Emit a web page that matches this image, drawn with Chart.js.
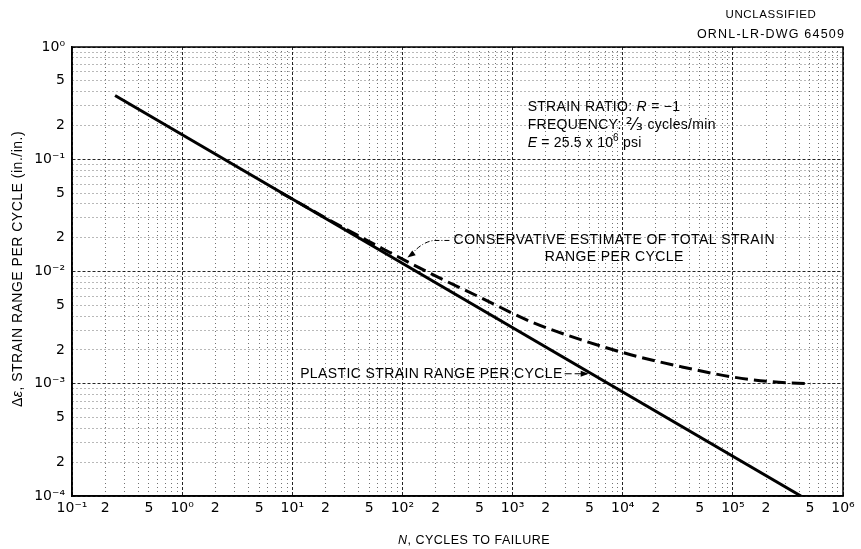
<!DOCTYPE html>
<html><head><meta charset="utf-8">
<script src="https://cdn.jsdelivr.net/npm/chart.js@4.4.1/dist/chart.umd.min.js"></script>
<style>html,body{margin:0;padding:0;background:#fff}#wrap{width:861px;height:549px;position:relative}</style>
</head><body><div id="wrap"><canvas id="c" width="861" height="549"></canvas></div>
<script>
// ---- data ----
const plasticN = [0.246, 4.15e5];
const plasticStrain = [0.37, 1.0e-4];
const totalN = [7.8, 22.1, 63.1, 180, 512, 1460, 4150, 11800, 33700, 95900, 221500, 512000];
const totalStrain = [0.0507, 0.0285, 0.01638, 0.0096, 0.00586, 0.00358, 0.00247, 0.001815, 0.00142, 0.001155, 0.001043, 0.00100];
const xTickValues = [0.1,0.2,0.5,1,2,5,10,20,50,100,200,500,1e3,2e3,5e3,1e4,2e4,5e4,1e5,2e5,5e5,1e6];
const xTickLabels = ['10⁻¹','2','5','10⁰','2','5','10¹','2','5','10²','2','5','10³','2','5','10⁴','2','5','10⁵','2','5','10⁶'];
const yTickValues = [1,0.5,0.2,0.1,0.05,0.02,0.01,0.005,0.002,0.001,5e-4,2e-4,1e-4];
const yTickLabels = ['10⁰','5','2','10⁻¹','5','2','10⁻²','5','2','10⁻³','5','2','10⁻⁴'];

const FONT = '"Liberation Sans", Arial, sans-serif';
const TICKFONT = '"DejaVu Sans", sans-serif';

function logGrid(e0, e1){
  const out=[];
  for(let e=e0;e<e1;e++){ for(let k=1;k<10;k++) out.push(k*Math.pow(10,e)); }
  out.push(Math.pow(10,e1));
  return out;
}
function labelFor(v, vals, labs){
  for(let i=0;i<vals.length;i++){ if(Math.abs(Math.log10(v)-Math.log10(vals[i]))<1e-6) return labs[i]; }
  return '';
}
function isDecade(v){ const l=Math.log10(v); return Math.abs(l-Math.round(l))<1e-6; }

const xy = (xs, ys) => xs.map((x,i)=>({x:x, y:ys[i]}));

function drawRich(ctx, parts, x, y, align, size, spacing){
  ctx.save();
  ctx.letterSpacing = (spacing||0)+'px';
  let w=0; const ws=[];
  parts.forEach(p=>{ ctx.font=(p.i?'italic ':'')+(p.s||size)+'px '+(p.f||FONT); const m=ctx.measureText(p.t).width; ws.push(m); w+=m; });
  let cx = align==='center'? x-w/2 : align==='right'? x-w : x;
  ctx.textAlign='left'; ctx.textBaseline='middle'; ctx.fillStyle='#000';
  parts.forEach((p,i)=>{ ctx.font=(p.i?'italic ':'')+(p.s||size)+'px '+(p.f||FONT); ctx.fillText(p.t, cx, y+(p.dy||0)); cx+=ws[i]; });
  ctx.restore();
  return w;
}
function arrowHead(ctx, fx, fy, tx, ty){
  const ang=Math.atan2(ty-fy, tx-fx), L=8, W=3;
  ctx.save(); ctx.fillStyle='#000'; ctx.beginPath();
  ctx.moveTo(tx,ty);
  ctx.lineTo(tx-L*Math.cos(ang)+W*Math.sin(ang), ty-L*Math.sin(ang)-W*Math.cos(ang));
  ctx.lineTo(tx-L*Math.cos(ang)-W*Math.sin(ang), ty-L*Math.sin(ang)+W*Math.cos(ang));
  ctx.closePath(); ctx.fill(); ctx.restore();
}

const annot = {
  id:'annot',
  afterDraw(chart){
    const ctx=chart.ctx, a=chart.chartArea, sx=chart.scales.x, sy=chart.scales.y;
    const X=v=>sx.getPixelForValue(v), Y=v=>sy.getPixelForValue(v);
    // frame
    ctx.save(); ctx.strokeStyle='#000'; ctx.lineWidth=1.5;
    ctx.strokeRect(a.left, a.top, a.right-a.left, a.bottom-a.top); ctx.restore();
    // header
    drawRich(ctx,[{t:'UNCLASSIFIED'}], 771, 15, 'center', 11.5, 0.6);
    drawRich(ctx,[{t:'ORNL-LR-DWG 64509'}], 771, 35, 'center', 12.5, 1.2);
    // notes block
    const nx = X(1370);
    drawRich(ctx,[{t:'STRAIN RATIO: '},{t:'R',i:true},{t:' = −1'}], nx, Y(0.291), 'left', 14, 0.3);
    drawRich(ctx,[{t:'FREQUENCY: '},{t:'²⁄₃',s:17,f:TICKFONT},{t:' cycles/min'}], nx, Y(0.201), 'left', 14, 0.3);
    drawRich(ctx,[{t:'E',i:true},{t:' = 25.5 x 10'},{t:'6',s:10,dy:-5},{t:' psi'}], nx, Y(0.139), 'left', 14, 0.2);
    // conservative label
    const cx = X(8380);
    drawRich(ctx,[{t:'CONSERVATIVE ESTIMATE OF TOTAL STRAIN'}], cx, Y(0.0189), 'center', 14, 0.4);
    drawRich(ctx,[{t:'RANGE PER CYCLE'}], cx, Y(0.01334), 'center', 14, 0.4);
    // leader to dashed curve
    ctx.save(); ctx.strokeStyle='#000'; ctx.lineWidth=1; ctx.setLineDash([5,2,1,2]);
    const l0x=X(267), l0y=Y(0.0189), l1x=X(191), tipx=X(111), tipy=Y(0.01334);
    ctx.beginPath(); ctx.moveTo(l0x,l0y); ctx.lineTo(l1x,l0y);
    ctx.quadraticCurveTo(l1x-12, l0y+2, tipx+4, tipy-3); ctx.stroke();
    ctx.setLineDash([]);
    arrowHead(ctx, tipx+10, tipy-7, tipx, tipy);
    ctx.restore();
    // plastic label
    drawRich(ctx,[{t:'PLASTIC STRAIN RANGE PER CYCLE'}], X(2848), Y(0.001228), 'right', 14, 0.4);
    ctx.save(); ctx.strokeStyle='#000'; ctx.lineWidth=1.2;
    const py=Y(0.001228), p0=X(2848)+2, p1=X(4910);
    ctx.beginPath(); ctx.moveTo(p0,py); ctx.lineTo(p0+7,py); ctx.moveTo(p0+10,py); ctx.lineTo(p1-2,py); ctx.stroke();
    arrowHead(ctx, p0+10, py, p1, py);
    ctx.restore();
    // axis titles
    drawRich(ctx,[{t:'N',i:true},{t:', CYCLES TO FAILURE'}], 474, 541, 'center', 12.5, 0.5);
    ctx.save(); ctx.translate(18, 269); ctx.rotate(-Math.PI/2);
    drawRich(ctx,[{t:'Δ'},{t:'ε',i:true},{t:', STRAIN RANGE PER CYCLE (in./in.)'}], 0, 0, 'center', 14, 0.5);
    ctx.restore();
  }
};

const xGrid = logGrid(-1, 6), yGrid = logGrid(-4, 0);
const gridColor = c => (c.tick && isDecade(c.tick.value)) ? 'rgba(0,0,0,0.85)' : 'rgba(0,0,0,0.55)';
const gridDash = c => (c.tick && isDecade(c.tick.value)) ? [3,2] : [1,3];

new Chart(document.getElementById('c'), {
  type:'line',
  data:{ datasets:[
    { label:'Plastic strain range per cycle', data: xy(plasticN, plasticStrain),
      borderColor:'#000', borderWidth:3, pointRadius:0, tension:0, fill:false },
    { label:'Conservative estimate of total strain range per cycle', data: xy(totalN, totalStrain),
      borderColor:'#000', borderWidth:3, borderDash:[13,6], pointRadius:0, cubicInterpolationMode:'monotone', fill:false }
  ]},
  options:{
    responsive:false, animation:false, devicePixelRatio:1,
    layout:{ padding:{ top:47, right:18, left:0, bottom:0 } },
    plugins:{ legend:{display:false}, tooltip:{enabled:false} },
    scales:{
      x:{ type:'logarithmic', min:0.1, max:1e6,
        afterBuildTicks: s=>{ s.ticks = xGrid.map(v=>({value:v})); },
        afterFit: s=>{ s.height = 53; },
        ticks:{ autoSkip:false, maxRotation:0, padding:4, color:'#000', font:{family:TICKFONT, size:14},
          callback:(v)=>labelFor(v, xTickValues, xTickLabels) },
        grid:{ drawTicks:false, color:gridColor, lineWidth:1 },
        border:{ display:true, color:'#000', width:1.5, dash:gridDash }
      },
      y:{ type:'logarithmic', min:1e-4, max:1,
        afterBuildTicks: s=>{ s.ticks = yGrid.map(v=>({value:v})); },
        afterFit: s=>{ s.width = 72; },
        ticks:{ autoSkip:false, padding:7, color:'#000', font:{family:TICKFONT, size:14},
          callback:(v)=>labelFor(v, yTickValues, yTickLabels) },
        grid:{ drawTicks:false, color:gridColor, lineWidth:1 },
        border:{ display:true, color:'#000', width:1.5, dash:gridDash }
      }
    }
  },
  plugins:[annot]
});
</script></body></html>
